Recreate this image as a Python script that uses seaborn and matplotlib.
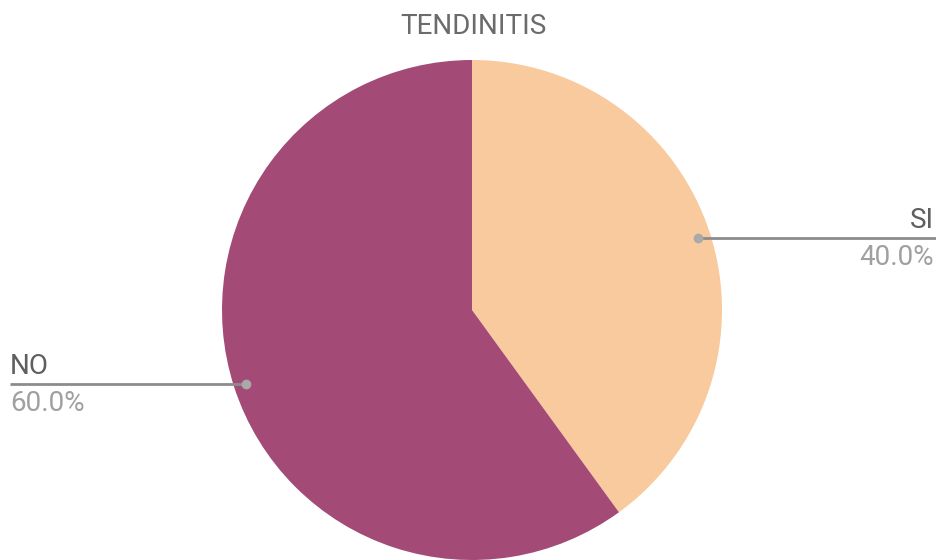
import numpy as np
import matplotlib
matplotlib.use("Agg")
import matplotlib.pyplot as plt
import seaborn as sns

# Survey answers for tendinitis
categories = ["SI", "NO"]
shares = [40.0, 60.0]
slice_colors = ["#F8CA9D", "#A34A76"]
title = "TENDINITIS"

sns.set_theme(style="white")
plt.rcParams["font.family"] = ["Roboto", "DejaVu Sans"]

W, H = 937, 560
fig = plt.figure(figsize=(W / 100, H / 100), dpi=100)
ax = fig.add_axes([0, 0, 1, 1])

cx, cy, R = 472, 250, 250
palette = sns.color_palette(slice_colors)
wedges, _ = ax.pie(shares, colors=palette, startangle=90, counterclock=False,
                   center=(cx, cy), radius=R,
                   wedgeprops=dict(linewidth=0))
ax.set_xlim(0, W)
ax.set_ylim(0, H)
ax.set_aspect("equal")
ax.axis("off")

line_col = "#8c8c8c"
for w, name, val in zip(wedges, categories, shares):
    mid = np.deg2rad((w.theta1 + w.theta2) / 2)
    px = cx + 0.95 * R * np.cos(mid)
    py = cy + 0.95 * R * np.sin(mid) - 1
    ax.plot([px], [py], "o", color="#a9a9a9", ms=6, zorder=5)
    if np.cos(mid) >= 0:
        x_end, ha, tx = W, "right", W - 3
    else:
        x_end, ha, tx = 10, "left", 10
    ax.plot([px, x_end], [py, py], color=line_col, lw=2, zorder=4,
            solid_capstyle="butt")
    ax.text(tx, py + 4, name, ha=ha, va="bottom", fontsize=20,
            color="#5f5f5f")
    ax.text(tx, py - 6, f"{val:.1f}%", ha=ha, va="top", fontsize=20,
            color="#a0a0a0")

fig.text(473 / W, 1 - 27 / H, title, ha="center", va="center",
         fontsize=20, color="#6b6b6b")

fig.savefig("out.png", dpi=100, facecolor="white")
